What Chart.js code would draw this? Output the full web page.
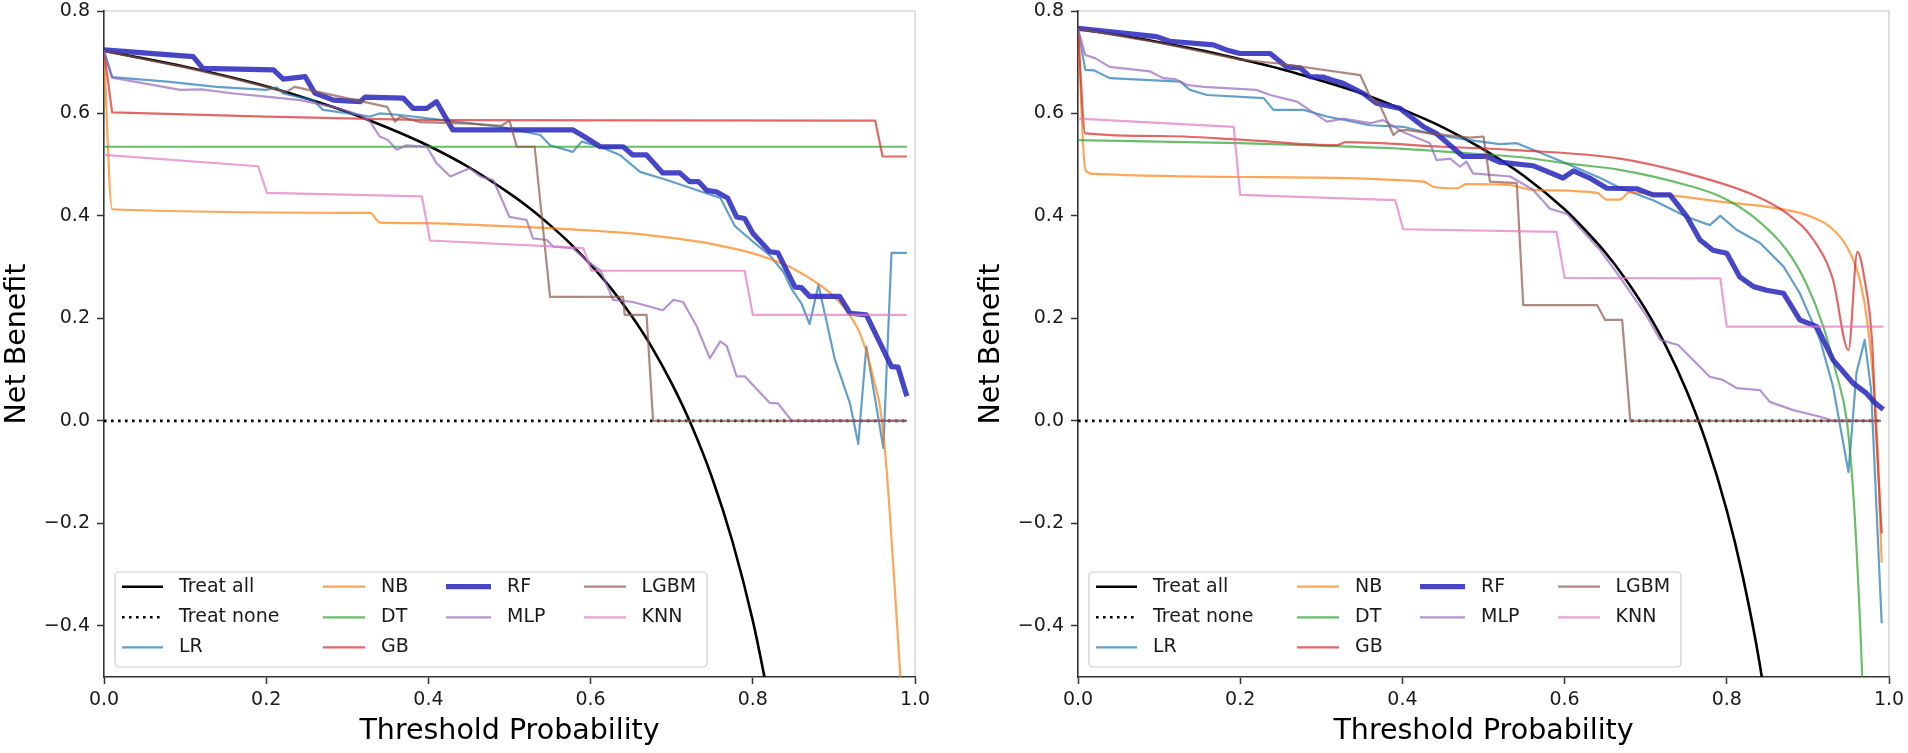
<!DOCTYPE html>
<html><head><meta charset="utf-8">
<script src="https://cdn.jsdelivr.net/npm/chart.js@4.4.1/dist/chart.umd.min.js"></script>
<style>
html,body{margin:0;padding:0;background:#fff;}
#wrap{position:relative;width:1908px;height:753px;overflow:hidden;}
.box{position:absolute;top:0;width:954px;height:753px;}
</style></head><body>
<div id="wrap">
<div class="box" style="left:0"><canvas id="c1" width="954" height="753"></canvas></div>
<div class="box" style="left:954px"><canvas id="c2" width="954" height="753"></canvas></div>
</div>
<script>
// ---------- labels & ticks ----------
const SERIES = ['Treat all','Treat none','LR','NB','DT','GB','RF','MLP','LGBM','KNN'];
const X_TICKS = [0, 0.2, 0.4, 0.6, 0.8, 1.0];
const Y_TICKS = [-0.4, -0.2, 0, 0.2, 0.4, 0.6, 0.8];
const X_TITLE = 'Threshold Probability';
const Y_TITLE = 'Net Benefit';

// ---------- left panel: [threshold, net benefit] ----------
const L_TREAT_ALL = [[0,0.722],[0.05,0.707],[0.1,0.691],[0.15,0.673],[0.2,0.653],[0.25,0.629],[0.3,0.603],[0.35,0.572],[0.4,0.537],[0.45,0.495],[0.5,0.444],[0.525,0.415],[0.55,0.382],[0.575,0.346],[0.6,0.305],[0.625,0.259],[0.65,0.206],[0.675,0.145],[0.7,0.073],[0.725,-0.011],[0.75,-0.112],[0.775,-0.236],[0.8,-0.39],[0.82,-0.544]];
const L_TREAT_NONE = [[0,0],[0.99,0]];
const L_LR = [[0,0.722],[0.01,0.671],[0.078,0.662],[0.139,0.652],[0.2,0.646],[0.213,0.651],[0.221,0.639],[0.258,0.626],[0.27,0.607],[0.316,0.597],[0.328,0.594],[0.34,0.6],[0.365,0.597],[0.418,0.587],[0.488,0.574],[0.538,0.558],[0.55,0.538],[0.578,0.525],[0.589,0.545],[0.612,0.535],[0.636,0.519],[0.661,0.486],[0.694,0.47],[0.76,0.435],[0.778,0.38],[0.8,0.35],[0.821,0.323],[0.838,0.29],[0.848,0.257],[0.86,0.229],[0.87,0.189],[0.881,0.265],[0.901,0.121],[0.92,0.033],[0.93,-0.045],[0.94,0.145],[0.961,-0.053],[0.971,0.328],[0.99,0.328]];
const L_NB = [[0,0.722],[0.01,0.413],[0.328,0.406],[0.34,0.387],[0.39,0.386],[0.45,0.383],[0.55,0.376],[0.65,0.366],[0.7,0.357],[0.75,0.345],[0.8,0.327],[0.821,0.316],[0.85,0.297],[0.883,0.265],[0.9,0.243],[0.916,0.214],[0.93,0.178],[0.94,0.135],[0.95,0.075],[0.957,0.026],[0.965,-0.096],[0.973,-0.278],[0.982,-0.5],[0.99,-0.75]];
const L_DT = [[0,0.535],[0.99,0.535]];
const L_GB = [[0,0.722],[0.01,0.602],[0.2,0.594],[0.4,0.587],[0.951,0.586],[0.96,0.516],[0.99,0.516]];
const L_RF = [[0,0.724],[0.11,0.711],[0.122,0.688],[0.209,0.685],[0.221,0.667],[0.248,0.672],[0.26,0.64],[0.283,0.626],[0.316,0.623],[0.322,0.632],[0.369,0.63],[0.381,0.61],[0.398,0.61],[0.41,0.623],[0.43,0.568],[0.578,0.568],[0.595,0.552],[0.612,0.535],[0.64,0.535],[0.652,0.519],[0.669,0.519],[0.689,0.484],[0.71,0.484],[0.722,0.467],[0.733,0.467],[0.743,0.45],[0.755,0.447],[0.769,0.435],[0.78,0.398],[0.79,0.395],[0.8,0.366],[0.821,0.33],[0.831,0.328],[0.852,0.261],[0.86,0.26],[0.87,0.243],[0.907,0.243],[0.92,0.21],[0.94,0.207],[0.971,0.106],[0.979,0.105],[0.99,0.048]];
const L_MLP = [[0,0.722],[0.01,0.67],[0.094,0.646],[0.12,0.647],[0.16,0.639],[0.2,0.633],[0.242,0.626],[0.282,0.613],[0.316,0.597],[0.328,0.584],[0.34,0.555],[0.35,0.548],[0.361,0.529],[0.373,0.538],[0.398,0.535],[0.41,0.503],[0.427,0.477],[0.451,0.493],[0.464,0.477],[0.48,0.47],[0.5,0.398],[0.521,0.392],[0.529,0.356],[0.546,0.353],[0.554,0.34],[0.578,0.337],[0.599,0.308],[0.612,0.294],[0.628,0.236],[0.652,0.232],[0.689,0.216],[0.702,0.236],[0.714,0.232],[0.731,0.184],[0.747,0.122],[0.76,0.155],[0.768,0.146],[0.78,0.087],[0.79,0.087],[0.821,0.035],[0.831,0.034],[0.848,0],[0.99,0]];
const L_LGBM = [[0,0.722],[0.1,0.69],[0.15,0.672],[0.2,0.652],[0.225,0.642],[0.235,0.652],[0.349,0.613],[0.359,0.584],[0.365,0.594],[0.39,0.583],[0.45,0.58],[0.49,0.576],[0.5,0.586],[0.509,0.535],[0.531,0.535],[0.55,0.242],[0.64,0.242],[0.642,0.207],[0.669,0.207],[0.677,0],[0.99,0]];
const L_KNN = [[0,0.519],[0.19,0.497],[0.201,0.445],[0.392,0.438],[0.402,0.352],[0.558,0.34],[0.591,0.337],[0.601,0.293],[0.79,0.293],[0.8,0.207],[0.99,0.207]];

// ---------- right panel: [threshold, net benefit] ----------
const R_TREAT_ALL = [[0,0.765],[0.05,0.753],[0.1,0.739],[0.15,0.724],[0.2,0.706],[0.25,0.687],[0.3,0.664],[0.35,0.639],[0.4,0.608],[0.45,0.573],[0.5,0.53],[0.55,0.478],[0.6,0.413],[0.625,0.373],[0.65,0.329],[0.675,0.277],[0.7,0.217],[0.725,0.146],[0.75,0.06],[0.775,-0.044],[0.8,-0.175],[0.82,-0.306],[0.84,-0.469],[0.86,-0.679]];
const R_TREAT_NONE = [[0,0],[0.99,0]];
const R_LR = [[0,0.765],[0.009,0.685],[0.02,0.684],[0.039,0.669],[0.126,0.662],[0.138,0.646],[0.159,0.636],[0.229,0.63],[0.241,0.607],[0.278,0.607],[0.307,0.594],[0.36,0.577],[0.401,0.574],[0.442,0.558],[0.483,0.548],[0.52,0.54],[0.541,0.542],[0.574,0.521],[0.603,0.502],[0.644,0.474],[0.668,0.455],[0.71,0.43],[0.751,0.398],[0.779,0.382],[0.792,0.4],[0.812,0.373],[0.841,0.347],[0.87,0.301],[0.89,0.249],[0.915,0.158],[0.931,0.067],[0.95,-0.1],[0.96,0.095],[0.97,0.158],[0.978,0.06],[0.991,-0.395]];
const R_NB = [[0,0.765],[0.009,0.49],[0.019,0.482],[0.2,0.476],[0.426,0.467],[0.438,0.457],[0.467,0.454],[0.479,0.462],[0.533,0.46],[0.561,0.451],[0.64,0.445],[0.652,0.432],[0.668,0.432],[0.68,0.446],[0.726,0.441],[0.792,0.428],[0.861,0.415],[0.898,0.402],[0.927,0.379],[0.948,0.34],[0.964,0.275],[0.974,0.184],[0.985,-0.024],[0.991,-0.277]];
const R_DT = [[0,0.548],[0.1,0.545],[0.2,0.542],[0.3,0.537],[0.4,0.531],[0.5,0.52],[0.55,0.514],[0.6,0.503],[0.668,0.49],[0.751,0.46],[0.792,0.438],[0.833,0.398],[0.874,0.333],[0.898,0.268],[0.919,0.184],[0.935,0.093],[0.948,0],[0.955,-0.12],[0.96,-0.25],[0.964,-0.38],[0.967,-0.5],[0.972,-0.75]];
const R_GB = [[0,0.765],[0.009,0.561],[0.1,0.556],[0.2,0.549],[0.319,0.538],[0.33,0.544],[0.45,0.535],[0.533,0.529],[0.668,0.512],[0.751,0.483],[0.833,0.441],[0.874,0.405],[0.907,0.353],[0.931,0.275],[0.95,0.138],[0.961,0.33],[0.97,0.275],[0.979,0.158],[0.984,-0.02],[0.991,-0.22]];
const R_RF = [[0,0.766],[0.097,0.75],[0.113,0.741],[0.167,0.734],[0.183,0.724],[0.2,0.717],[0.237,0.717],[0.257,0.691],[0.274,0.689],[0.286,0.672],[0.302,0.671],[0.314,0.665],[0.327,0.659],[0.352,0.639],[0.368,0.62],[0.397,0.61],[0.426,0.574],[0.442,0.561],[0.463,0.532],[0.475,0.516],[0.504,0.516],[0.52,0.505],[0.561,0.498],[0.598,0.474],[0.611,0.488],[0.631,0.474],[0.652,0.454],[0.689,0.453],[0.709,0.441],[0.73,0.441],[0.751,0.398],[0.767,0.353],[0.783,0.333],[0.8,0.327],[0.816,0.281],[0.833,0.262],[0.849,0.255],[0.87,0.249],[0.89,0.197],[0.911,0.184],[0.931,0.119],[0.956,0.073],[0.972,0.054],[0.983,0.035],[0.993,0.022]];
const R_MLP = [[0,0.765],[0.009,0.714],[0.021,0.708],[0.039,0.691],[0.089,0.682],[0.105,0.669],[0.12,0.667],[0.134,0.656],[0.155,0.652],[0.22,0.646],[0.237,0.636],[0.27,0.623],[0.307,0.584],[0.327,0.59],[0.36,0.581],[0.376,0.587],[0.401,0.564],[0.434,0.542],[0.442,0.509],[0.459,0.512],[0.471,0.496],[0.479,0.506],[0.487,0.483],[0.533,0.477],[0.561,0.451],[0.582,0.414],[0.603,0.404],[0.644,0.333],[0.668,0.281],[0.701,0.205],[0.718,0.158],[0.74,0.148],[0.779,0.086],[0.795,0.08],[0.812,0.064],[0.841,0.06],[0.853,0.037],[0.882,0.021],[0.915,0.008],[0.931,0],[0.99,0]];
const R_LGBM = [[0,0.765],[0.1,0.738],[0.2,0.705],[0.25,0.697],[0.348,0.675],[0.36,0.633],[0.372,0.617],[0.389,0.558],[0.395,0.566],[0.405,0.568],[0.434,0.561],[0.483,0.553],[0.5,0.555],[0.508,0.467],[0.541,0.464],[0.549,0.226],[0.64,0.226],[0.65,0.197],[0.671,0.197],[0.681,0],[0.99,0]];
const R_KNN = [[0,0.59],[0.192,0.574],[0.2,0.441],[0.391,0.431],[0.401,0.374],[0.59,0.369],[0.6,0.279],[0.792,0.278],[0.8,0.184],[0.993,0.184]];

const LEFT_DATA  = [L_TREAT_ALL, L_TREAT_NONE, L_LR, L_NB, L_DT, L_GB, L_RF, L_MLP, L_LGBM, L_KNN];
const RIGHT_DATA = [R_TREAT_ALL, R_TREAT_NONE, R_LR, R_NB, R_DT, R_GB, R_RF, R_MLP, R_LGBM, R_KNN];

// ---------- styles ----------
const COLORS = ['#000000','#000000','rgba(31,119,180,0.7)','rgba(255,127,14,0.7)','rgba(44,160,44,0.7)','rgba(214,39,40,0.7)','rgba(45,45,190,0.88)','rgba(148,103,189,0.7)','rgba(140,86,75,0.7)','rgba(227,119,194,0.7)'];
const WIDTHS = [2.6, 2.6, 2.2, 2.2, 2.2, 2.2, 5.2, 2.2, 2.2, 2.2];
const DASHES = [[], [2.6,4.4], [], [], [], [], [], [], [], []];
const LEFT_SMOOTH  = [true, false, false, true, false, false, false, false, false, false];
const RIGHT_SMOOTH = [true, false, false, true, true, true, false, false, false, false];
const FONT = "'DejaVu Sans', 'Liberation Sans', sans-serif";
const TEXT = '#1a1a1a';

const spinesPlugin = {
  id: 'spines',
  beforeDatasetsDraw(chart) {
    const {ctx, chartArea: a} = chart;
    ctx.save();
    ctx.strokeStyle = 'rgba(0,0,0,0.16)';
    ctx.lineWidth = 1.6;
    ctx.beginPath();
    ctx.moveTo(a.left, a.top); ctx.lineTo(a.right, a.top); ctx.lineTo(a.right, a.bottom);
    ctx.stroke();
    ctx.restore();
  }
};

const legendPlugin = {
  id: 'mplLegend',
  afterDatasetsDraw(chart) {
    const ctx = chart.ctx, a = chart.chartArea;
    const L = a.left, B = a.bottom;
    ctx.save();
    ctx.beginPath();
    ctx.roundRect(L + 11, B - 105, 592, 95, 4);
    ctx.fillStyle = 'rgba(255,255,255,0.8)';
    ctx.fill();
    ctx.strokeStyle = '#cccccc';
    ctx.lineWidth = 1.2;
    ctx.stroke();
    const cols = [[18,59,75],[219,261,277],[342,387,403],[480,522,537.5]];
    const rows = [-90.3, -59.7, -29.7];
    const slots = [[0,0],[0,1],[0,2],[1,0],[1,1],[1,2],[2,0],[2,1],[3,0],[3,1]];
    chart.data.datasets.forEach((ds, i) => {
      const [c, r] = slots[i];
      const y = B + rows[r];
      ctx.beginPath();
      ctx.setLineDash(ds.borderDash || []);
      ctx.lineWidth = ds.borderWidth;
      ctx.strokeStyle = ds.borderColor;
      ctx.lineCap = 'butt';
      ctx.moveTo(L + cols[c][0], y);
      ctx.lineTo(L + cols[c][1], y);
      ctx.stroke();
      ctx.setLineDash([]);
      ctx.fillStyle = TEXT;
      ctx.font = "19px " + FONT;
      ctx.textBaseline = 'middle';
      ctx.textAlign = 'left';
      ctx.fillText(ds.label, L + cols[c][2], y);
    });
    ctx.restore();
  }
};

function fmt(v) {
  const s = Math.abs(v).toFixed(1);
  return v < -1e-9 ? '\u2212' + s : s;
}

function makeChart(id, series, smooth, padLeft, padRight) {
  const datasets = SERIES.map((name, i) => ({
    label: name,
    data: series[i].map(p => ({x: p[0], y: p[1]})),
    borderColor: COLORS[i],
    backgroundColor: COLORS[i],
    borderWidth: WIDTHS[i],
    borderDash: DASHES[i],
    borderJoinStyle: 'round',
    borderCapStyle: 'butt',
    pointRadius: 0,
    pointHoverRadius: 0,
    fill: false,
    tension: 0,
    cubicInterpolationMode: smooth[i] ? 'monotone' : 'default',
    order: SERIES.length - i
  }));
  return new Chart(document.getElementById(id), {
    type: 'line',
    data: {datasets},
    plugins: [spinesPlugin, legendPlugin],
    options: {
      responsive: false,
      animation: false,
      devicePixelRatio: 1,
      events: [],
      layout: {autoPadding: false, padding: {left: padLeft, right: padRight, top: 11, bottom: 0}},
      plugins: {legend: {display: false}, tooltip: {enabled: false}, title: {display: false}},
      scales: {
        x: {
          type: 'linear', min: 0, max: 1,
          afterBuildTicks: s => { s.ticks = X_TICKS.map(v => ({value: v})); },
          afterFit: s => { s.height = 76; s.paddingLeft = 0; s.paddingRight = 0; },
          ticks: {callback: v => fmt(v), color: TEXT, font: {family: FONT, size: 19}, padding: 4.5, maxRotation: 0, autoSkip: false},
          grid: {drawOnChartArea: false, drawTicks: true, tickLength: 7, tickColor: '#333', tickWidth: 1.5},
          border: {display: true, color: '#333', width: 1.6},
          title: {display: true, text: X_TITLE, color: '#000', font: {family: FONT, size: 28.5}, padding: {top: 0, bottom: 4.4}}
        },
        y: {
          type: 'linear', min: -0.5, max: 0.8,
          afterBuildTicks: s => { s.ticks = Y_TICKS.map(v => ({value: v})); },
          afterFit: s => { s.width = 104; s.paddingTop = 0; s.paddingBottom = 0; },
          ticks: {callback: v => fmt(v), color: TEXT, font: {family: FONT, size: 19}, padding: 7, autoSkip: false},
          grid: {drawOnChartArea: false, drawTicks: true, tickLength: 7, tickColor: '#333', tickWidth: 1.5},
          border: {display: true, color: '#333', width: 1.6},
          title: {display: true, text: Y_TITLE, color: '#000', font: {family: FONT, size: 28.5}, padding: {top: 0, bottom: 0}}
        }
      }
    }
  });
}

makeChart('c1', LEFT_DATA, LEFT_SMOOTH, 0, 39);
makeChart('c2', RIGHT_DATA, RIGHT_SMOOTH, 20, 19);
</script>
</body></html>
